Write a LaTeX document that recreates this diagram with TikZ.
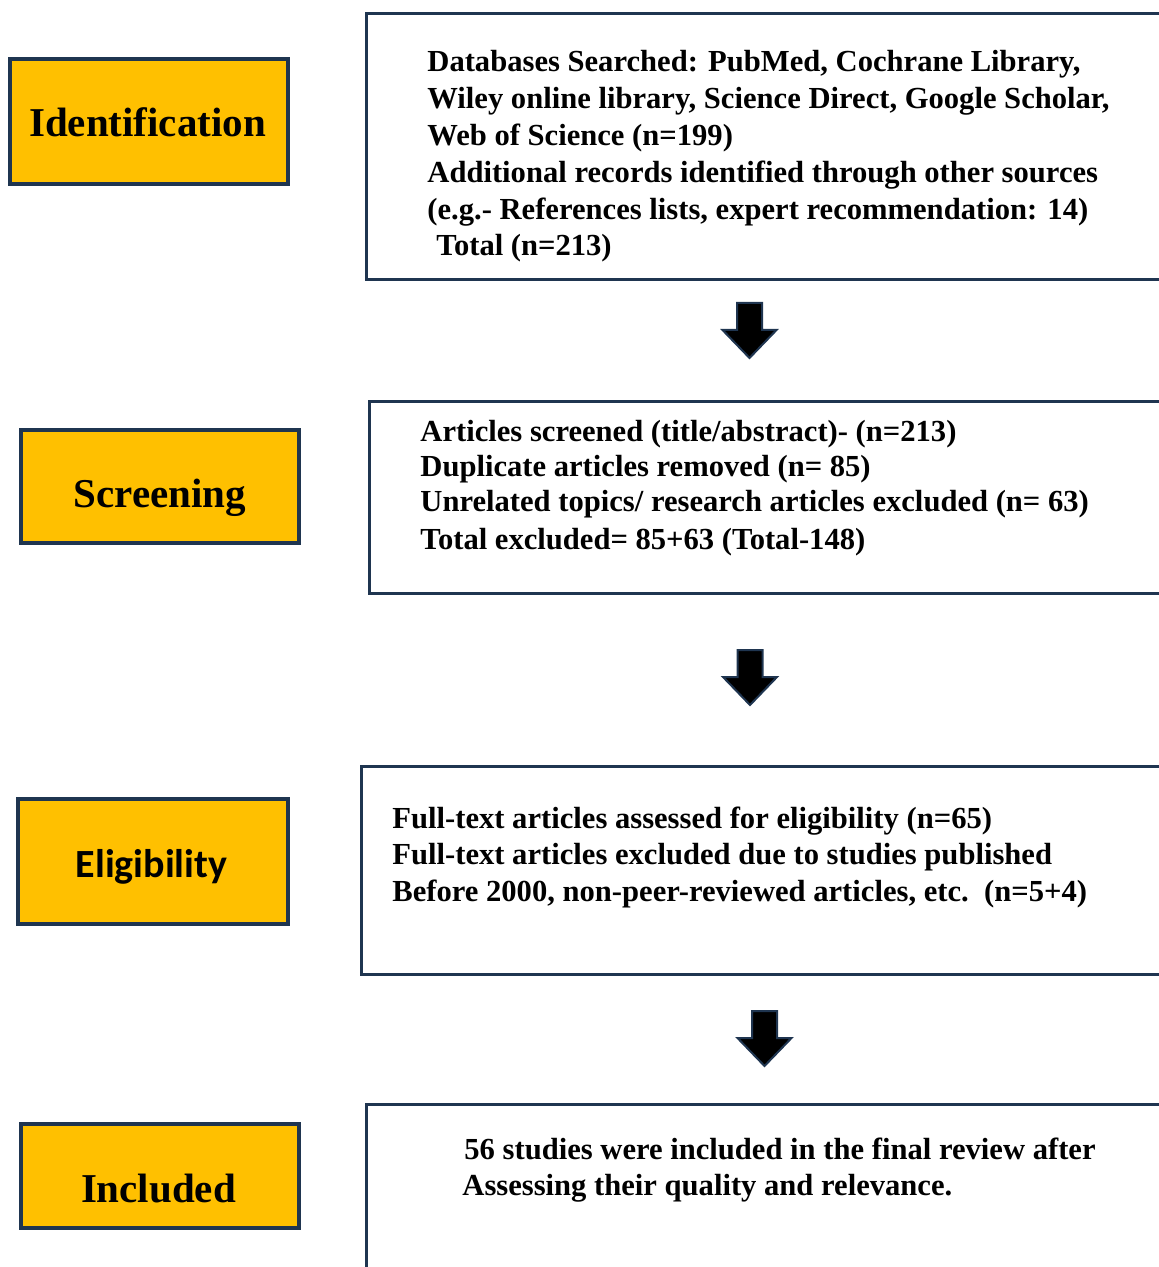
\documentclass[tikz,border=0pt]{standalone}
\usepackage{fontspec}
\setmainfont{Liberation Serif}
\newfontfamily\labsans{Carlito}
\definecolor{boxnavy}{HTML}{1F3550}
\definecolor{boxgold}{HTML}{FFC000}
\begin{document}
\begin{tikzpicture}[x=0.5pt,y=-0.5pt,
  stage/.style={draw=boxnavy, line width=2pt, fill=boxgold, inner sep=0pt, outer sep=0pt},
  stagelabel/.style={anchor=base, inner sep=0pt, font=\fontsize{20.5}{24}\selectfont\bfseries},
  bodyline/.style={anchor=base west, inner sep=0pt, font=\fontsize{15.3}{18}\selectfont\bfseries},
  infobox/.style={draw=boxnavy, line width=1.5pt},
  downarrow/.pic={
    \filldraw[fill=black, draw=boxnavy, line width=1pt, line join=miter]
      (-12.5,0) -- (12.5,0) -- (12.5,27) -- (27,27) -- (0,55) -- (-27,27) -- (-12.5,27) -- cycle;
  }]
\useasboundingbox (0,0) rectangle (1159,1267);
\clip (0,0) rectangle (1159,1267);

% stage boxes
\node[stage, minimum width=139pt, minimum height=62.5pt] (sid) at (149,121.5) {};
\node[stage, minimum width=139pt, minimum height=56.5pt] (ssc) at (160,486.5) {};
\node[stage, minimum width=135pt, minimum height=62.5pt] (sel) at (153,861.5) {};
\node[stage, minimum width=139pt, minimum height=52pt] (sin) at (160,1176) {};

\node[stagelabel] (lid) at (147.5,137) {Identification};
\node[stagelabel] (lsc) at (160,507) {Screening};
\node[stagelabel, font=\fontsize{20}{24}\selectfont\labsans\bfseries] (lel) at (151.5,877) {Eligibility};
\node[stagelabel] (lin) at (158.5,1202) {Included};

% information boxes (right side runs off the page)
\draw[infobox] (1180,13.5) -- (366.5,13.5) -- (366.5,279.5) -- (1180,279.5);
\draw[infobox] (1180,401.5) -- (369.5,401.5) -- (369.5,593.5) -- (1180,593.5);
\draw[infobox] (1180,766.5) -- (361.5,766.5) -- (361.5,974.5) -- (1180,974.5);
\draw[infobox] (1180,1104.5) -- (366.5,1104.5) -- (366.5,1290);

% box 1 text
\node[bodyline] (a1) at (427,72) {Databases Searched: PubMed, Cochrane Library,};
\node[bodyline] (a2) at (427,108.8) {Wiley online library, Science Direct, Google Scholar,};
\node[bodyline] (a3) at (427,145.6) {Web of Science (n=199)};
\node[bodyline] (a4) at (427,182.4) {Additional records identified through other sources};
\node[bodyline] (a5) at (427,219.2) {(e.g.- References lists, expert recommendation: 14)};
\node[bodyline] (a6) at (436,256) {Total (n=213)};

% box 2 text
\node[bodyline] (b1) at (420,441) {Articles screened (title/abstract)- (n=213)};
\node[bodyline] (b2) at (420,476) {Duplicate articles removed (n= 85)};
\node[bodyline] (b3) at (420,511) {Unrelated topics/ research articles excluded (n= 63)};
\node[bodyline] (b4) at (420,549) {Total excluded= 85+63 (Total-148)};

% box 3 text
\node[bodyline] (c1) at (392,828) {Full-text articles assessed for eligibility (n=65)};
\node[bodyline] (c2) at (392,864) {Full-text articles excluded due to studies published};
\node[bodyline] (c3) at (392,901) {Before 2000, non-peer-reviewed articles, etc.\ \ (n=5+4)};

% box 4 text
\node[bodyline] (d1) at (464,1159) {56 studies were included in the final review after};
\node[bodyline] (d2) at (462,1195) {Assessing their quality and relevance.};

% block arrows
\pic at (749.5,303) {downarrow};
\pic at (750,650) {downarrow};
\pic at (764.5,1011) {downarrow};
\end{tikzpicture}
\end{document}
